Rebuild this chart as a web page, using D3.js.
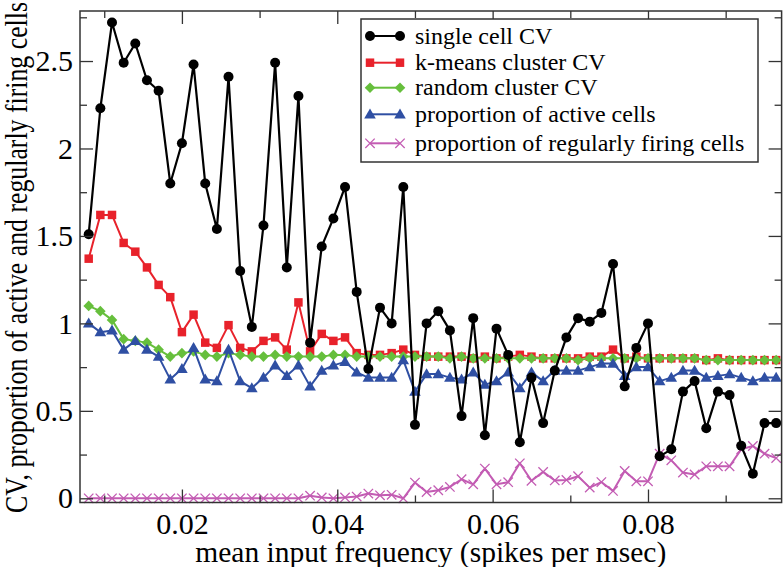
<!DOCTYPE html>
<html>
<head>
<meta charset="utf-8">
<script src="https://cdn.jsdelivr.net/npm/d3@7"></script>
<style>
  html, body { margin: 0; padding: 0; background: #fff; }
  svg { display: block; }
  text { font-family: "Liberation Serif", "Times New Roman", "DejaVu Serif", serif; fill: #000; }
</style>
</head>
<body>
<svg id="chart" width="783" height="567"></svg>
<script>
// ---------------- data ----------------
const inputFreq = [0.008, 0.0095, 0.011, 0.0125, 0.014, 0.0155, 0.017, 0.0185, 0.02, 0.0215,
  0.023, 0.0245, 0.026, 0.0275, 0.029, 0.0305, 0.032, 0.0335, 0.035, 0.0365,
  0.038, 0.0395, 0.041, 0.0425, 0.044, 0.0455, 0.047, 0.0485, 0.05, 0.0515,
  0.053, 0.0545, 0.056, 0.0575, 0.059, 0.0605, 0.062, 0.0635, 0.065, 0.0665,
  0.068, 0.0695, 0.071, 0.0725, 0.074, 0.0755, 0.077, 0.0785, 0.08, 0.0815,
  0.083, 0.0845, 0.086, 0.0875, 0.089, 0.0905, 0.092, 0.0935, 0.095, 0.0965];

const singleCellCV = [1.51, 2.23, 2.72, 2.49, 2.60, 2.39, 2.33, 1.80, 2.03, 2.48,
  1.80, 1.54, 2.41, 1.30, 0.98, 1.56, 2.49, 1.32, 2.30, 0.89,
  1.44, 1.60, 1.78, 1.18, 0.74, 1.09, 1.00, 1.78, 0.42, 1.00,
  1.07, 0.96, 0.47, 1.03, 0.36, 0.97, 0.82, 0.32, 0.69, 0.43,
  0.73, 0.92, 1.03, 1.01, 1.06, 1.34, 0.64, 0.86, 1.00, 0.24,
  0.28, 0.61, 0.67, 0.40, 0.61, 0.59, 0.30, 0.14, 0.43, 0.43];

const kmeansClusterCV = [1.37, 1.62, 1.62, 1.46, 1.41, 1.32, 1.22, 1.15, 0.95, 1.05,
  0.89, 0.86, 0.99, 0.86, 0.84, 0.90, 0.92, 0.85, 1.12, 0.84,
  0.94, 0.90, 0.92, 0.83, 0.82, 0.82, 0.83, 0.85, 0.82, 0.81,
  0.81, 0.81, 0.81, 0.80, 0.81, 0.80, 0.81, 0.82, 0.81, 0.80,
  0.80, 0.80, 0.80, 0.81, 0.81, 0.85, 0.80, 0.81, 0.80, 0.80,
  0.80, 0.80, 0.80, 0.79, 0.80, 0.79, 0.79, 0.79, 0.79, 0.79];

const randomClusterCV = [1.10, 1.07, 1.02, 0.91, 0.90, 0.89, 0.85, 0.81, 0.83, 0.84,
  0.82, 0.81, 0.83, 0.82, 0.81, 0.81, 0.82, 0.81, 0.81, 0.81,
  0.81, 0.82, 0.82, 0.81, 0.81, 0.81, 0.81, 0.81, 0.81, 0.81,
  0.81, 0.80, 0.81, 0.80, 0.80, 0.80, 0.80, 0.80, 0.80, 0.80,
  0.80, 0.80, 0.79, 0.80, 0.80, 0.80, 0.80, 0.80, 0.80, 0.80,
  0.80, 0.80, 0.80, 0.79, 0.79, 0.79, 0.79, 0.79, 0.79, 0.79];

const activeProportion = [1.00, 0.95, 0.96, 0.85, 0.90, 0.85, 0.81, 0.68, 0.74, 0.86,
  0.68, 0.67, 0.85, 0.67, 0.63, 0.69, 0.76, 0.70, 0.76, 0.64,
  0.73, 0.76, 0.78, 0.72, 0.69, 0.69, 0.69, 0.79, 0.61, 0.71,
  0.71, 0.69, 0.68, 0.72, 0.65, 0.67, 0.72, 0.63, 0.72, 0.67,
  0.73, 0.73, 0.73, 0.75, 0.77, 0.77, 0.70, 0.75, 0.75, 0.67,
  0.69, 0.73, 0.73, 0.69, 0.70, 0.71, 0.69, 0.67, 0.69, 0.69];

const regularProportion = [0, 0, 0, 0, 0, 0, 0, 0, 0, 0,
  0, 0, 0, 0, 0, 0, 0, 0, 0, 0.015,
  0.005, 0, 0.005, 0.01, 0.027, 0.017, 0.02, 0, 0.09, 0.036,
  0.046, 0.065, 0.109, 0.08, 0.17, 0.08, 0.092, 0.20, 0.10, 0.151,
  0.102, 0.105, 0.126, 0.061, 0.093, 0.042, 0.156, 0.097, 0.097, 0.255,
  0.217, 0.147, 0.136, 0.183, 0.183, 0.183, 0.28, 0.299, 0.255, 0.23];

const seriesNames = ["single cell CV", "k-means cluster CV", "random cluster CV",
  "proportion of active cells", "proportion of regularly firing cells"];

const xMajorTicks = [0.02, 0.04, 0.06, 0.08];
const xTickLabels = ["0.02", "0.04", "0.06", "0.08"];
const xMinorTicks = [0.01, 0.03, 0.05, 0.07, 0.09];
const yMajorTicks = [0, 0.5, 1, 1.5, 2, 2.5];
const yTickLabels = ["0", "0.5", "1", "1.5", "2", "2.5"];
const yMinorTicks = [0.25, 0.75, 1.25, 1.75, 2.25, 2.75];

const xTitle = "mean input frequency (spikes per msec)";
const yTitle = "CV, proportion of active and regularly firing cells";

// ---------------- layout ----------------
const SERIF = '"Liberation Serif", "Times New Roman", "DejaVu Serif", serif';
const L = 80, R = 781.6, T = 11, B = 502.5;
const svg = d3.select("#chart");

const x = d3.scaleLinear().domain([0.00688, 0.0972]).range([L, R]);
const y = d3.scaleLinear().domain([-0.024, 2.786]).range([B, T]);

const frameColor = "#333";

// marker shapes
const markerPaths = {
  circle: d3.symbol(d3.symbolCircle, Math.PI * 5 * 5)(),
  square: d3.symbol(d3.symbolSquare, 72)(),
  diamond: "M0,-5.3L5.3,0L0,5.3L-5.3,0Z",
  triangle: "M0,-5.8L5.8,4.2L-5.8,4.2Z",
  cross: "M-4.7,-4.7L4.7,4.7M-4.7,4.7L4.7,-4.7"
};

const series = [
  { name: seriesNames[1], values: kmeansClusterCV, color: "#e8222b", marker: "square" },
  { name: seriesNames[2], values: randomClusterCV, color: "#66bf3c", marker: "diamond" },
  { name: seriesNames[3], values: activeProportion, color: "#2f4fa3", marker: "triangle" },
  { name: seriesNames[4], values: regularProportion, color: "#c35cb3", marker: "cross" },
  { name: seriesNames[0], values: singleCellCV, color: "#000000", marker: "circle" }
];

function drawMarker(g, type, color, cx, cy) {
  const p = g.append("path")
    .attr("d", markerPaths[type])
    .attr("transform", `translate(${cx},${cy})`);
  if (type === "cross") {
    p.attr("fill", "none").attr("stroke", color).attr("stroke-width", 1.3);
  } else {
    p.attr("fill", color).attr("stroke", "none");
  }
}

// ---------------- series ----------------
const line = d3.line().x(d => x(d[0])).y(d => y(d[1]));
const plotG = svg.append("g");
series.forEach(s => {
  const pts = inputFreq.map((f, i) => [f, s.values[i]]);
  const g = plotG.append("g");
  g.append("path")
    .attr("d", line(pts))
    .attr("fill", "none")
    .attr("stroke", s.color)
    .attr("stroke-width", s.marker === "circle" ? 2.2 : 2)
    .attr("stroke-linejoin", "round");
  pts.forEach(p => drawMarker(g, s.marker, s.color, x(p[0]), y(p[1])));
});

// ---------------- axes ----------------
function styleAxis(g) {
  g.attr("font-family", SERIF).attr("font-size", 30);
  g.select(".domain").remove();
  g.selectAll(".tick line").attr("stroke", frameColor).attr("stroke-width", 1.3);
  g.selectAll(".tick text").attr("fill", "#000").style("font-family", SERIF).style("font-size", "30px");
}

// bottom
svg.append("g").attr("transform", `translate(0,${B})`)
  .call(d3.axisBottom(x).tickValues(xMajorTicks).tickSize(-13).tickPadding(10)
    .tickFormat((d, i) => xTickLabels[i]))
  .call(styleAxis);
svg.append("g").attr("transform", `translate(0,${B})`)
  .call(d3.axisBottom(x).tickValues(xMinorTicks).tickSize(-7).tickFormat(""))
  .call(styleAxis);
// top
svg.append("g").attr("transform", `translate(0,${T})`)
  .call(d3.axisTop(x).tickValues(xMajorTicks).tickSize(-13).tickFormat(""))
  .call(styleAxis);
svg.append("g").attr("transform", `translate(0,${T})`)
  .call(d3.axisTop(x).tickValues(xMinorTicks).tickSize(-7).tickFormat(""))
  .call(styleAxis);
// left
svg.append("g").attr("transform", `translate(${L},0)`)
  .call(d3.axisLeft(y).tickValues(yMajorTicks).tickSize(-13).tickPadding(7)
    .tickFormat((d, i) => yTickLabels[i]))
  .call(styleAxis);
svg.append("g").attr("transform", `translate(${L},0)`)
  .call(d3.axisLeft(y).tickValues(yMinorTicks).tickSize(-7).tickFormat(""))
  .call(styleAxis);
// right
svg.append("g").attr("transform", `translate(${R},0)`)
  .call(d3.axisRight(y).tickValues(yMajorTicks).tickSize(-13).tickFormat(""))
  .call(styleAxis);
svg.append("g").attr("transform", `translate(${R},0)`)
  .call(d3.axisRight(y).tickValues(yMinorTicks).tickSize(-7).tickFormat(""))
  .call(styleAxis);

// frame
svg.append("rect")
  .attr("x", L).attr("y", T).attr("width", R - L).attr("height", B - T)
  .attr("fill", "none").attr("stroke", frameColor).attr("stroke-width", 1.5);

// titles
svg.append("text")
  .attr("x", (L + R) / 2).attr("y", 562)
  .attr("text-anchor", "middle")
  .style("font-family", SERIF)
  .attr("font-size", 29.5)
  .text(xTitle);

svg.append("text")
  .attr("transform", "translate(27,513) rotate(-90)")
  .attr("x", 0).attr("y", 0)
  .attr("text-anchor", "start")
  .style("font-family", SERIF)
  .attr("font-size", 31)
  .attr("textLength", 511)
  .attr("lengthAdjust", "spacingAndGlyphs")
  .text(yTitle);

// ---------------- legend ----------------
const legendOrder = [
  { name: seriesNames[0], color: "#000000", marker: "circle" },
  { name: seriesNames[1], color: "#e8222b", marker: "square" },
  { name: seriesNames[2], color: "#66bf3c", marker: "diamond" },
  { name: seriesNames[3], color: "#2f4fa3", marker: "triangle" },
  { name: seriesNames[4], color: "#c35cb3", marker: "cross" }
];
const legendRowY = [36, 62.7, 87.7, 114.3, 143.3];
const lg = svg.append("g");
lg.append("rect")
  .attr("x", 361).attr("y", 19).attr("width", 397).attr("height", 143)
  .attr("fill", "#fff").attr("stroke", frameColor).attr("stroke-width", 1.5);
legendOrder.forEach((s, i) => {
  const cy = legendRowY[i];
  lg.append("line")
    .attr("x1", 370).attr("x2", 400).attr("y1", cy).attr("y2", cy)
    .attr("stroke", s.color).attr("stroke-width", 2);
  drawMarker(lg, s.marker, s.color, 370, cy);
  drawMarker(lg, s.marker, s.color, 400, cy);
  lg.append("text")
    .attr("x", 415).attr("y", cy + 7.5)
    .style("font-family", SERIF)
    .attr("font-size", 24)
    .text(s.name);
});
</script>
</body>
</html>
